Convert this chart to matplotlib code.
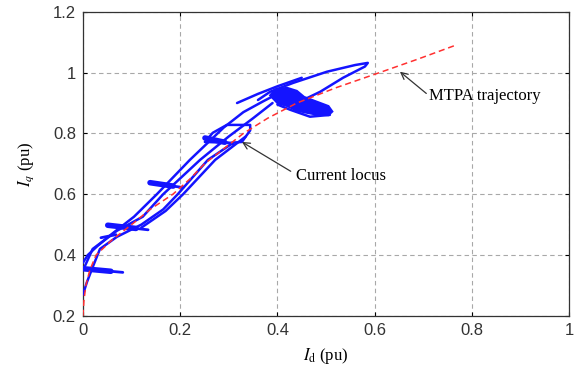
import matplotlib
matplotlib.use("Agg")
import matplotlib.pyplot as plt
import numpy as np

# MTPA trajectory (red dashed)
mtpa_id = [0.0, 0.002, 0.006, 0.014, 0.027, 0.06, 0.10, 0.138, 0.185, 0.22, 0.25, 0.29, 0.33, 0.38, 0.44, 0.52, 0.61, 0.69, 0.763]
mtpa_iq = [0.20, 0.25, 0.30, 0.35, 0.40, 0.45, 0.50, 0.55, 0.60, 0.65, 0.70, 0.75, 0.80, 0.85, 0.90, 0.95, 1.00, 1.045, 1.088]

# Current locus (blue): strands of the trajectory
strand1_id = [0.0, 0.01, 0.03, 0.06, 0.105, 0.152, 0.22, 0.29, 0.33, 0.37, 0.40]
strand1_iq = [0.375, 0.40, 0.43, 0.47, 0.526, 0.60, 0.713, 0.82, 0.87, 0.905, 0.93]
strand2_id = [0.003, 0.02, 0.07, 0.123, 0.165, 0.241, 0.30, 0.35, 0.39]
strand2_iq = [0.36, 0.42, 0.48, 0.526, 0.60, 0.713, 0.79, 0.85, 0.90]
strand3_id = [0.0, 0.008, 0.02, 0.035, 0.07, 0.12, 0.165, 0.195, 0.257, 0.31]
strand3_iq = [0.27, 0.31, 0.36, 0.42, 0.46, 0.50, 0.55, 0.60, 0.713, 0.77]
strand4_id = [0.12, 0.17, 0.206, 0.272, 0.335]
strand4_iq = [0.49, 0.545, 0.60, 0.713, 0.79]

# small loop near (0.3, 0.8)
loop_id = [0.251, 0.267, 0.296, 0.344, 0.344, 0.327, 0.302, 0.251]
loop_iq = [0.772, 0.802, 0.828, 0.828, 0.81, 0.772, 0.769, 0.772]

# large loop towards (0.59, 1.03)
bigloop_id = [0.36, 0.385, 0.432, 0.502, 0.56, 0.586, 0.58, 0.535, 0.488, 0.453, 0.43]
bigloop_iq = [0.91, 0.937, 0.966, 1.003, 1.025, 1.032, 1.02, 0.983, 0.937, 0.91, 0.90]

# lower contour under the blob
contour_id = [0.40, 0.426, 0.467, 0.508]
contour_iq = [0.895, 0.878, 0.855, 0.861]

# short stroke above the blob
spike_id = [0.317, 0.36, 0.40, 0.45]
spike_iq = [0.90, 0.93, 0.955, 0.983]

# dense blob around the final operating point
blob_id = [0.385, 0.395, 0.42, 0.44, 0.455, 0.48, 0.505, 0.513, 0.505, 0.48, 0.46, 0.44, 0.42, 0.40]
blob_iq = [0.925, 0.945, 0.95, 0.94, 0.92, 0.905, 0.89, 0.872, 0.86, 0.862, 0.868, 0.875, 0.89, 0.90]

# horizontal chatter strokes (start/end points)
burst_id = [[0.0, 0.082], [0.051, 0.134], [0.138, 0.206], [0.251, 0.309], [0.037, 0.068]]
burst_iq = [[0.355, 0.343], [0.498, 0.483], [0.638, 0.622], [0.785, 0.765], [0.457, 0.467]]

xticks = [0, 0.2, 0.4, 0.6, 0.8, 1]
xticklabels = ["0", "0.2", "0.4", "0.6", "0.8", "1"]
yticks = [0.2, 0.4, 0.6, 0.8, 1.0, 1.2]
yticklabels = ["0.2", "0.4", "0.6", "0.8", "1", "1.2"]

plt.rcParams['mathtext.fontset'] = 'stix'
fig = plt.figure(figsize=(5.76, 3.81), dpi=100)
ax = fig.add_axes([0.144, 0.171, 0.844, 0.798])

blue = '#1414ff'
lw = 1.8
ax.fill(blob_id, blob_iq, color=blue, lw=1.5, zorder=3)
for xs, ys in [(strand1_id, strand1_iq), (strand2_id, strand2_iq), (strand3_id, strand3_iq),
               (strand4_id, strand4_iq), (loop_id, loop_iq), (bigloop_id, bigloop_iq),
               (contour_id, contour_iq), (spike_id, spike_iq)]:
    ax.plot(xs, ys, color=blue, lw=lw, solid_joinstyle='round', solid_capstyle='round', zorder=3)
for i, (xs, ys) in enumerate(zip(burst_id, burst_iq)):
    ax.plot(xs, ys, color=blue, lw=2.0, solid_capstyle='round', zorder=3)
    if i < 4:
        xm = xs[0] + 0.7 * (xs[1] - xs[0])
        ym = ys[0] + 0.7 * (ys[1] - ys[0])
        ax.plot([xs[0], xm], [ys[0], ym], color=blue, lw=4.0, solid_capstyle='round', zorder=3)
ax.plot(mtpa_id, mtpa_iq, color='#ff3030', lw=1.1, ls=(0, (4, 2.5)), zorder=4)

ax.set_xlim(0, 1)
ax.set_ylim(0.2, 1.2)
ax.set_xticks(xticks)
ax.set_xticklabels(xticklabels)
ax.set_yticks(yticks)
ax.set_yticklabels(yticklabels)
ax.tick_params(direction='in', top=True, right=True, length=3, labelsize=12,
               labelcolor='#333333', labelfontfamily='Liberation Sans', pad=5)
ax.grid(True, ls=(0, (4, 3)), color='#a8a8a8', lw=0.8)
for s in ax.spines.values():
    s.set_color('#333333')
    s.set_linewidth(0.9)

ax.set_xlabel(r'$I_\mathrm{d}$ (pu)', fontfamily='Liberation Serif', fontsize=12, labelpad=6)
ax.set_ylabel(r'$I_q$ (pu)', fontfamily='Liberation Serif', fontsize=12, labelpad=12)

ax.annotate('MTPA trajectory', xy=(0.652, 1.003), xytext=(0.712, 0.924),
            fontfamily='Liberation Serif', fontsize=12, va='center', ha='left',
            arrowprops=dict(arrowstyle='->', color='#333333', lw=0.9, shrinkA=0, shrinkB=0,
                            relpos=(0.0, 0.5)))
ax.annotate('Current locus', xy=(0.327, 0.772), xytext=(0.438, 0.66),
            fontfamily='Liberation Serif', fontsize=12, va='center', ha='left',
            arrowprops=dict(arrowstyle='->', color='#333333', lw=0.9, shrinkA=2, shrinkB=0,
                            relpos=(0.0, 0.6)))

fig.savefig('out.png', dpi=100)
